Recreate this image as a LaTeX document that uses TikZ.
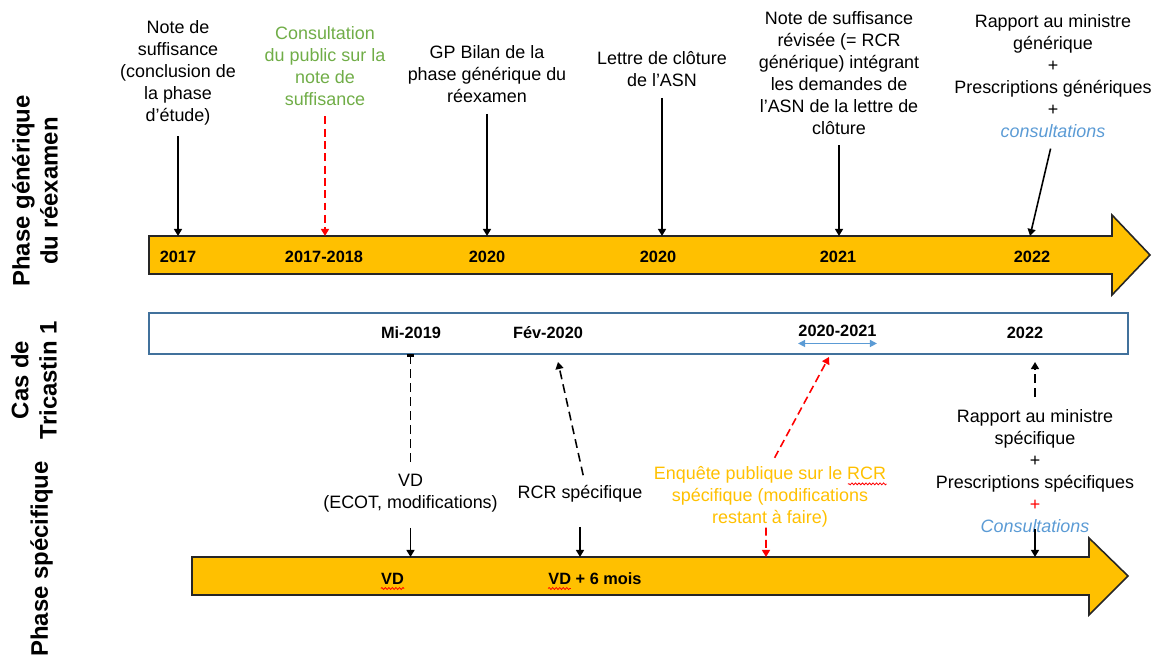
\documentclass[tikz,border=0pt]{standalone}
\usepackage{fontspec}
\setmainfont{Liberation Sans}
\usetikzlibrary{arrows.meta,decorations.pathmorphing}

\definecolor{barorange}{HTML}{FFC000}
\definecolor{boxblue}{HTML}{41719C}
\definecolor{consblue}{HTML}{5B9BD5}
\definecolor{consgreen}{HTML}{70AD47}

\tikzset{
  txt/.style={font=\fontsize{10.2}{12.5}\selectfont, align=center, inner sep=0pt},
  year/.style={font=\fontsize{9.3}{11}\selectfont\bfseries, anchor=base, inner sep=0pt},
  side/.style={font=\fontsize{13.6}{16}\selectfont\bfseries, align=center, rotate=90, inner sep=0pt},
  pointer/.style={-{Triangle[length=4pt,width=4.5pt]}, line width=0.9pt},
  dpointer/.style={pointer, dash pattern=on 5pt off 3pt},
  rdpointer/.style={pointer, red, dash pattern=on 4.5pt off 2.5pt},
  timebar/.style={fill=barorange, draw=black!85, line width=0.9pt, line join=miter},
  spell/.style={red, line width=0.45pt, decorate, decoration={snake, amplitude=0.55pt, segment length=2pt}},
}

\begin{document}
\begin{tikzpicture}
\useasboundingbox (0,0) rectangle (23.1,13.14);

% Titles on the left
\node[side] (tgen) at (0.70,9.32) {Phase générique\\du réexamen};
\node[side] (ttri) at (0.68,5.54) {Cas de\\Tricastin 1};
\node[side] (tspe) at (0.83,1.96) {Phase spécifique};

% Generic phase: arrow and dates
\draw[timebar] (2.98,7.66) -- (22.24,7.66) -- (22.24,7.24) -- (23.0,8.04) -- (22.24,8.84) -- (22.24,8.42) -- (2.98,8.42) -- cycle;
\coordinate (gtop) at (0,8.42);
\node[year] (g1) at (3.56,7.88) {2017};
\node[year] (g2) at (6.48,7.88) {2017-2018};
\node[year] (g3) at (9.74,7.88) {2020};
\node[year] (g4) at (13.16,7.88) {2020};
\node[year] (g5) at (16.76,7.88) {2021};
\node[year] (g6) at (20.64,7.88) {2022};

% Generic phase: events
\node[txt] (ns) at (3.56,11.68) {Note de\\suffisance\\(conclusion de\\la phase\\d’étude)};
\node[txt, text=consgreen] (cons) at (6.5,11.82) {Consultation\\du public sur la\\note de\\suffisance};
\node[txt] (gp) at (9.74,11.65) {GP Bilan de la\\phase générique du\\réexamen};
\node[txt] (asn) at (13.24,11.75) {Lettre de clôture\\de l’ASN};
\node[txt] (nsr) at (16.78,11.68) {Note de suffisance\\révisée (= RCR\\générique) intégrant\\les demandes de\\l’ASN de la lettre de\\clôture};
\node[txt] (rapg) at (21.06,11.61) {Rapport au ministre\\générique\\+\\Prescriptions génériques\\+\\\textcolor{consblue}{\itshape consultations}};
\coordinate (g6top) at (20.6,8.42);

\draw[pointer, shorten <=6pt] (ns) -- (ns |- gtop);
\draw[rdpointer, shorten <=6pt] (cons) -- (cons |- gtop);
\draw[pointer, shorten <=6pt] (gp) -- (gp |- gtop);
\draw[pointer, shorten <=6pt] (asn) -- (asn |- gtop);
\draw[pointer, shorten <=6pt] (nsr) -- (nsr |- gtop);
\draw[pointer, shorten <=6pt] (rapg.south) -- (g6top);

% Case of Tricastin 1
\draw[boxblue, line width=1.2pt, fill=white] (2.98,6.06) rectangle (22.56,6.88);
\coordinate (mbot) at (0,6.06);
\node[year] (m1) at (8.22,6.36) {Mi-2019};
\node[year] (m2) at (10.96,6.36) {Fév-2020};
\node[year] (m3) at (16.75,6.40) {2020-2021};
\node[year] (m4) at (20.5,6.36) {2022};
\draw[{Triangle[length=4pt,width=4pt]}-{Triangle[length=4pt,width=4pt]}, consblue, line width=0.8pt] ([yshift=-3.4pt]m3.south west) -- ([yshift=-3.4pt]m3.south east);

% Specific phase: arrow and dates
\draw[timebar] (3.84,1.24) -- (21.78,1.24) -- (21.78,0.84) -- (22.56,1.62) -- (21.78,2.38) -- (21.78,2.0) -- (3.84,2.0) -- cycle;
\coordinate (sbot) at (0,2.0);
\node[year] (s1) at (7.85,1.44) {VD};
\node[year] (s2) at (11.9,1.44) {VD + 6 mois};
\draw[spell] ([yshift=-2pt]s1.base west) -- ([yshift=-2pt]s1.base east);
\draw[spell] ([yshift=-2pt]s2.base west) -- ++(12.9pt,0);

% Specific phase: events
\node[txt] (vd) at (8.21,3.27) {VD\\(ECOT, modifications)};
\node[txt] (rcr) at (11.6,3.27) {RCR spécifique};
\node[txt, text=barorange] (enq) at (15.4,3.2) {Enquête publique sur le RCR\\spécifique (modifications\\restant à faire)};
\node[txt] (raps) at (20.7,3.72) {Rapport au ministre\\spécifique\\+\\Prescriptions spécifiques\\\textcolor{red}{+}\\\textcolor{consblue}{\itshape Consultations}};
\draw[spell] ([yshift=-10pt]enq.north east) -- ++(-22pt,0);
\coordinate (m2arr) at (11.16,5.9);
\coordinate (m3arr) at (16.58,6.0);
\coordinate (m4arr) at (20.7,5.9);
\coordinate (enqb) at (15.32,2.0);

\draw[line width=0.9pt, dash pattern=on 5pt off 3pt, -{Bar[width=4.5pt,line width=1.8pt]}, shorten <=6.8pt] (vd) -- (vd |- mbot);
\draw[pointer, shorten <=8.5pt] (vd) -- (vd |- sbot);
\draw[dpointer, shorten <=5.5pt] ([xshift=3pt]rcr.north) -- (m2arr);
\draw[pointer, shorten <=14pt] (rcr) -- (rcr |- sbot);
\draw[rdpointer, shorten <=5.5pt] (enq.north) -- (m3arr);
\draw[rdpointer] ([xshift=-2.3pt]enq.south) -- (enqb);
\draw[dpointer, shorten <=6.8pt] (raps) -- (m4arr);
\draw[pointer] ([yshift=2.3pt]raps.south) -- (raps |- sbot);

\end{tikzpicture}
\end{document}
